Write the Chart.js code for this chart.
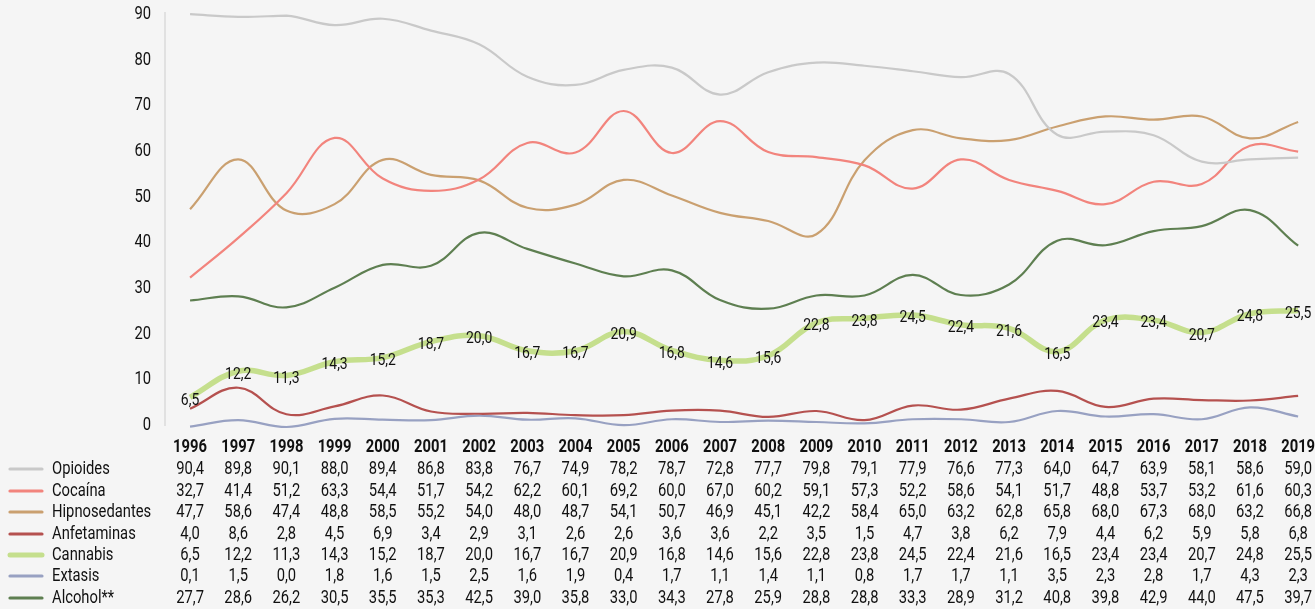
<!DOCTYPE html>
<html>
<head>
<meta charset="utf-8">
<script src="https://cdn.jsdelivr.net/npm/chart.js@4/dist/chart.umd.min.js"></script>
<style>
  html, body { margin: 0; padding: 0; background: #f5f5f5; }
  #wrap { width: 1315px; height: 609px; }
</style>
</head>
<body>
<div id="wrap"><canvas id="chart"></canvas></div>
<script>
// years and series (percent)
const years = [1996, 1997, 1998, 1999, 2000, 2001, 2002, 2003, 2004, 2005, 2006, 2007,
               2008, 2009, 2010, 2011, 2012, 2013, 2014, 2015, 2016, 2017, 2018, 2019];
const seriesNames = ["Opioides", "Cocaína", "Hipnosedantes", "Anfetaminas", "Cannabis", "Extasis", "Alcohol**"];
const opioides = [90.4, 89.8, 90.1, 88.0, 89.4, 86.8, 83.8, 76.7, 74.9, 78.2, 78.7, 72.8, 77.7, 79.8, 79.1, 77.9, 76.6, 77.3, 64.0, 64.7, 63.9, 58.1, 58.6, 59.0];
const cocaina = [32.7, 41.4, 51.2, 63.3, 54.4, 51.7, 54.2, 62.2, 60.1, 69.2, 60.0, 67.0, 60.2, 59.1, 57.3, 52.2, 58.6, 54.1, 51.7, 48.8, 53.7, 53.2, 61.6, 60.3];
const hipnosedantes = [47.7, 58.6, 47.4, 48.8, 58.5, 55.2, 54.0, 48.0, 48.7, 54.1, 50.7, 46.9, 45.1, 42.2, 58.4, 65.0, 63.2, 62.8, 65.8, 68.0, 67.3, 68.0, 63.2, 66.8];
const anfetaminas = [4.0, 8.6, 2.8, 4.5, 6.9, 3.4, 2.9, 3.1, 2.6, 2.6, 3.6, 3.6, 2.2, 3.5, 1.5, 4.7, 3.8, 6.2, 7.9, 4.4, 6.2, 5.9, 5.8, 6.8];
const cannabis = [6.5, 12.2, 11.3, 14.3, 15.2, 18.7, 20.0, 16.7, 16.7, 20.9, 16.8, 14.6, 15.6, 22.8, 23.8, 24.5, 22.4, 21.6, 16.5, 23.4, 23.4, 20.7, 24.8, 25.5];
const extasis = [0.1, 1.5, 0.0, 1.8, 1.6, 1.5, 2.5, 1.6, 1.9, 0.4, 1.7, 1.1, 1.4, 1.1, 0.8, 1.7, 1.7, 1.1, 3.5, 2.3, 2.8, 1.7, 4.3, 2.3];
const alcohol = [27.7, 28.6, 26.2, 30.5, 35.5, 35.3, 42.5, 39.0, 35.8, 33.0, 34.3, 27.8, 25.9, 28.8, 28.8, 33.3, 28.9, 31.2, 40.8, 39.8, 42.9, 44.0, 47.5, 39.7];
const yTicks = [0, 10, 20, 30, 40, 50, 60, 70, 80, 90];

const seriesValues = [opioides, cocaina, hipnosedantes, anfetaminas, cannabis, extasis, alcohol];
const colors = ["#c9c9c9", "#f2847d", "#caa070", "#b5514f", "#c5df8d", "#98a1c2", "#5e7f51"];
const widths = [2.2, 2.2, 2.2, 2.2, 5.5, 2.2, 2.2];
const labelledSeries = 4; // Cannabis carries value labels

const FONT = "Roboto, 'Noto Sans', sans-serif";
const fmt = v => v.toFixed(1).replace(".", ",");

// narrow text: draw with a horizontal squeeze
function narrowText(ctx, text, x, y, align, size, bold) {
  const sx = 0.82;
  ctx.save();
  ctx.font = (bold ? "bold " : "") + size + "px " + FONT;
  ctx.textBaseline = "middle";
  ctx.textAlign = align;
  ctx.translate(x, y);
  ctx.scale(sx, 1);
  ctx.fillText(text, 0, 0);
  ctx.restore();
}

const tablePlugin = {
  id: "dataTable",
  beforeDatasetsDraw(chart) {
    // vertical axis line
    const ctx = chart.ctx;
    ctx.save();
    ctx.strokeStyle = "#dadada";
    ctx.lineWidth = 1.5;
    ctx.beginPath();
    ctx.moveTo(165, 12);
    ctx.lineTo(165, 426);
    ctx.stroke();
    ctx.restore();
  },
  afterDatasetsDraw(chart) {
    const ctx = chart.ctx;
    const xs = chart.scales.x;
    const ys = chart.scales.y;
    ctx.fillStyle = "#111";

    // value labels on the Cannabis line
    cannabis.forEach((v, i) => {
      narrowText(ctx, fmt(v), xs.getPixelForValue(years[i]), ys.getPixelForValue(v) + 3, "center", 17, false);
    });

    // y tick labels
    yTicks.forEach(t => {
      narrowText(ctx, String(t), 151, ys.getPixelForValue(t) - 1.5, "right", 18, false);
    });

    // header row
    const headerY = 447;
    years.forEach(yr => {
      narrowText(ctx, String(yr), xs.getPixelForValue(yr), headerY, "center", 18, true);
    });

    // rows with legend swatches
    const rowY = [469, 491, 512, 534, 555, 576, 598];
    seriesNames.forEach((name, r) => {
      const y = rowY[r];
      ctx.save();
      ctx.strokeStyle = colors[r];
      ctx.lineWidth = r === labelledSeries ? 5 : 3.2;
      ctx.lineCap = "round";
      ctx.beginPath();
      ctx.moveTo(10, y);
      ctx.lineTo(42, y);
      ctx.stroke();
      ctx.restore();
      narrowText(ctx, name, 52, y, "left", 18, false);
      seriesValues[r].forEach((v, i) => {
        narrowText(ctx, fmt(v), xs.getPixelForValue(years[i]), y, "center", 18, false);
      });
    });
  }
};

const datasets = seriesNames.map((name, r) => ({
  label: name,
  data: years.map((yr, i) => ({ x: yr, y: seriesValues[r][i] })),
  borderColor: colors[r],
  borderWidth: widths[r],
  pointRadius: 0,
  tension: 0.4,
  fill: false,
  clip: false,
  order: r === labelledSeries ? 10 : r
}));

new Chart(document.getElementById("chart"), {
  type: "line",
  data: { datasets },
  options: {
    responsive: true,
    maintainAspectRatio: false,
    animation: false,
    layout: { padding: { top: 16, bottom: 182, right: 0, left: 0 } },
    plugins: { legend: { display: false }, tooltip: { enabled: false } },
    scales: {
      x: {
        type: "linear",
        display: false,
        min: 1995.48,
        max: 2019.35
      },
      y: {
        min: 0,
        max: 90,
        ticks: { display: false, stepSize: 10 },
        grid: { display: false },
        border: { display: false },
        afterFit(scale) { scale.width = 165; }
      }
    }
  },
  plugins: [tablePlugin]
});
</script>
</body>
</html>
